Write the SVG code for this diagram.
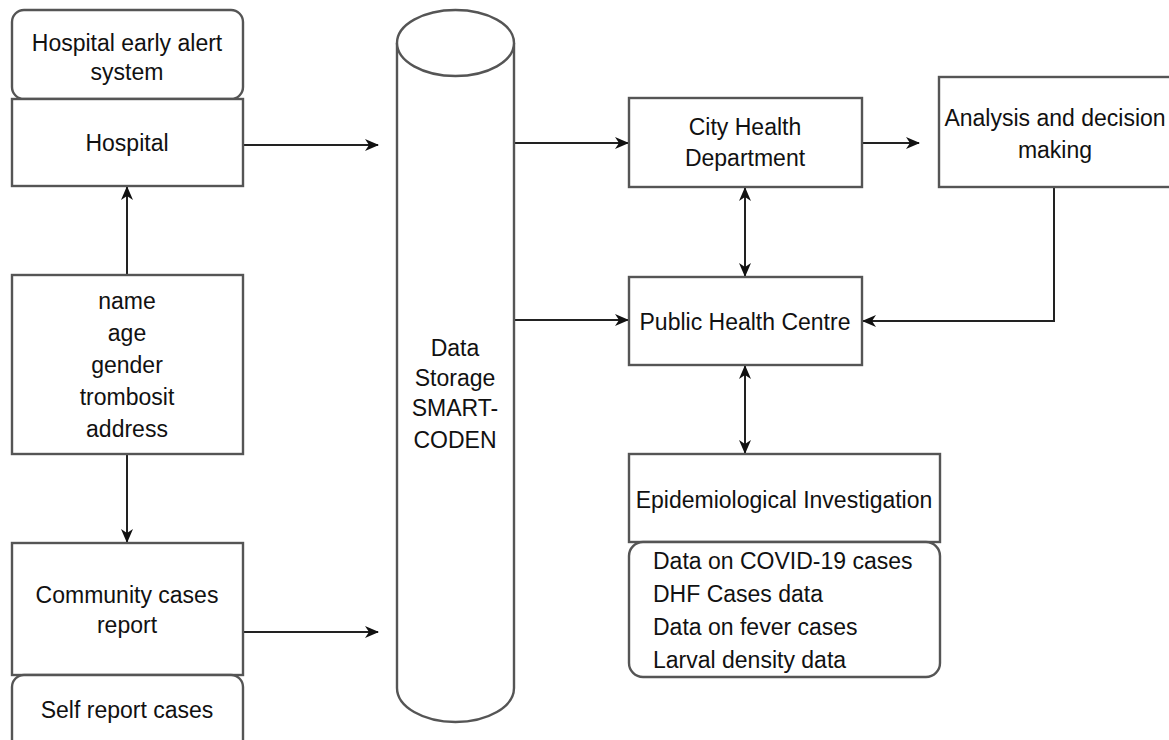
<svg xmlns="http://www.w3.org/2000/svg" width="1169" height="740" viewBox="0 0 1169 740">
<style>
.box{fill:#fff;stroke:#555;stroke-width:2.4}
.t{font-family:"Liberation Sans",Arial,sans-serif;font-size:23px;fill:#111;text-anchor:middle}
.tl{font-family:"Liberation Sans",Arial,sans-serif;font-size:23px;fill:#111;text-anchor:start}
.c{fill:none;stroke:#222;stroke-width:2}
</style>
<defs>
<marker id="ah" viewBox="0 0 14 12" refX="13" refY="6" markerWidth="14" markerHeight="12" markerUnits="userSpaceOnUse" orient="auto-start-reverse">
<path d="M0,0 L14,6 L0,12 L4,6 z" fill="#111"/>
</marker>
</defs>
<rect width="1169" height="740" fill="#fff"/>
<g id="connectors">
<path class="c" d="M243,145 L378,145" marker-end="url(#ah)"/>
<path class="c" d="M243,632 L378,632" marker-end="url(#ah)"/>
<path class="c" d="M127,275 L127,187" marker-end="url(#ah)"/>
<path class="c" d="M127,454 L127,542" marker-end="url(#ah)"/>
<path class="c" d="M514,143 L628,143" marker-end="url(#ah)"/>
<path class="c" d="M514,320 L628,320" marker-end="url(#ah)"/>
<path class="c" d="M862,143 L919,143" marker-end="url(#ah)"/>
<path class="c" d="M1054,187 L1054,321 L863,321" marker-end="url(#ah)"/>
<path class="c" d="M745,188 L745,276" marker-start="url(#ah)" marker-end="url(#ah)"/>
<path class="c" d="M745,366 L745,453" marker-start="url(#ah)" marker-end="url(#ah)"/>
</g>
<g id="alert">
<rect class="box" x="12" y="10" width="231" height="89" rx="12"/>
<text class="t" x="127" y="51">Hospital early alert</text>
<text class="t" x="127" y="80">system</text>
</g>
<g id="hospital">
<rect class="box" x="12" y="99" width="231" height="87"/>
<text class="t" x="127" y="151">Hospital</text>
</g>
<g id="patient">
<rect class="box" x="12" y="275" width="231" height="179"/>
<text class="t" x="127" y="309">name</text>
<text class="t" x="127" y="341">age</text>
<text class="t" x="127" y="373">gender</text>
<text class="t" x="127" y="405">trombosit</text>
<text class="t" x="127" y="437">address</text>
</g>
<g id="community">
<rect class="box" x="12" y="543" width="231" height="132"/>
<text class="t" x="127" y="603">Community cases</text>
<text class="t" x="127" y="633">report</text>
</g>
<g id="self">
<rect class="box" x="12" y="675" width="231" height="80" rx="12"/>
<text class="t" x="127" y="718">Self report cases</text>
</g>
<g id="storage">
<path class="box" d="M397,43 L397,688 A58.5,34 0 0,0 514,688 L514,43"/>
<ellipse class="box" cx="455.5" cy="43" rx="58.5" ry="33"/>
<text class="t" x="455" y="356">Data</text>
<text class="t" x="455" y="386">Storage</text>
<text class="t" x="455" y="416">SMART-</text>
<text class="t" x="455" y="448">CODEN</text>
</g>
<g id="city">
<rect class="box" x="629" y="98" width="233" height="89"/>
<text class="t" x="745" y="135">City Health</text>
<text class="t" x="745" y="166">Department</text>
</g>
<g id="analysis">
<rect class="box" x="939" y="77" width="240" height="110"/>
<text class="t" x="1055" y="126">Analysis and decision</text>
<text class="t" x="1055" y="158">making</text>
</g>
<g id="phc">
<rect class="box" x="629" y="277" width="233" height="88"/>
<text class="t" x="745" y="330">Public Health Centre</text>
</g>
<g id="epi">
<rect class="box" x="629" y="454" width="311" height="88"/>
<text class="t" x="784" y="508">Epidemiological Investigation</text>
</g>
<g id="data">
<rect class="box" x="629" y="542" width="311" height="135" rx="14"/>
<text class="tl" x="653" y="569">Data on COVID-19 cases</text>
<text class="tl" x="653" y="602">DHF Cases data</text>
<text class="tl" x="653" y="635">Data on fever cases</text>
<text class="tl" x="653" y="668">Larval density data</text>
</g>
</svg>
